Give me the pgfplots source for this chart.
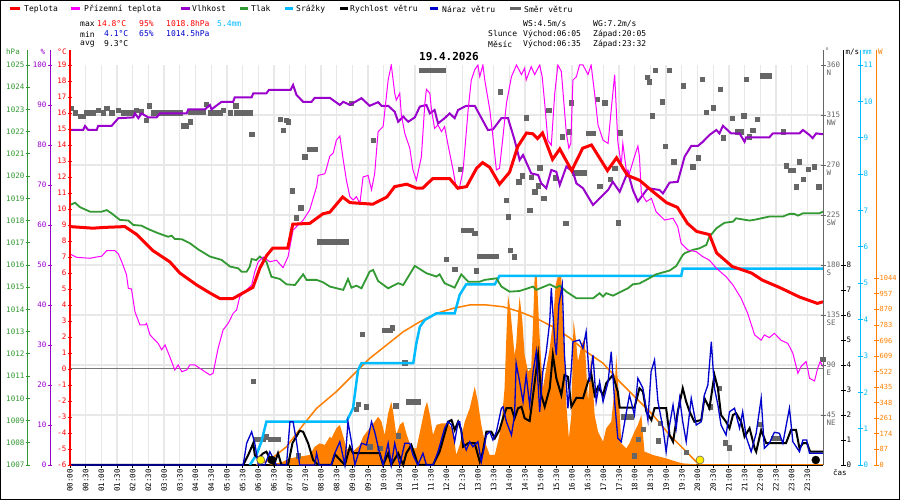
\documentclass[border=0pt]{standalone}
\usepackage{fontspec}
\setmainfont{DejaVu Sans Mono}
\usepackage{pgfplots}
\pgfplotsset{compat=1.18}
\definecolor{cT}{RGB}{255,0,0}
\definecolor{cG}{RGB}{255,0,255}
\definecolor{cH}{RGB}{153,0,204}
\definecolor{cP}{RGB}{51,153,51}
\definecolor{cR}{RGB}{0,187,255}
\definecolor{cB}{RGB}{0,0,204}
\definecolor{cD}{RGB}{102,102,102}
\definecolor{cS}{RGB}{255,128,0}
\definecolor{cGrid}{RGB}{232,232,232}
\definecolor{cZero}{RGB}{120,120,120}
\definecolor{cSun}{RGB}{255,238,0}
\pgfplotsset{
  dat/.style={scale only axis, width=753pt, height=400pt, at={(70pt,35pt)}, anchor=south west, xmin=0, xmax=24, hide axis},
  sc/.style={scale only axis, width=1pt, height=415pt, hide x axis, xmin=0, xmax=1,
    tick align=center, major tick length=5pt, clip=false,
    yticklabel style={font=\fontsize{7.5}{9}\selectfont, inner sep=1pt},
    /pgf/number format/assume math mode=true, /pgf/number format/1000 sep={}},
}
\begin{document}
\begin{tikzpicture}[x=1pt,y=1pt]
\useasboundingbox (0,0) rectangle (900,500);
\fill[white] (0,0) rectangle (900,500);
% grid axis
\begin{axis}[scale only axis, width=753pt, height=400pt, at={(70pt,35pt)}, anchor=south west,
  xmin=0, xmax=24, ymin=0, ymax=360, clip=false,
  axis line style={draw=none},
  xtick={0,0.5,...,23.5},
  xticklabels={00:00,00:30,01:00,01:30,02:00,02:30,03:00,03:30,04:00,04:30,05:00,05:30,06:00,06:30,07:00,07:30,08:00,08:30,09:00,09:30,10:00,10:30,11:00,11:30,12:00,12:30,13:00,13:30,14:00,14:30,15:00,15:30,16:00,16:30,17:00,17:30,18:00,18:30,19:00,19:30,20:00,20:30,21:00,21:30,22:00,22:30,23:00,23:30},
  xtick pos=left, tick align=outside, major tick length=3pt,
  xtick style={black, line width=0.8pt},
  ytick={45,90,...,315}, yticklabels={}, ytick style={draw=none},
  grid=major, grid style={cGrid, line width=1.3pt},
  xticklabel style={rotate=90, anchor=east, font=\fontsize{7.5}{8}\selectfont, inner sep=1pt},
]
\addplot[cZero, line width=1pt] coordinates {(0,86.4) (24,86.4)};
\addplot[black, line width=1.5pt] coordinates {(0,0) (24,0)};
\end{axis}
% solar radiation W
\begin{axis}[dat, ymin=0, ymax=2236.8]
\addplot[fill=cS, draw=none] coordinates {(6.3,0) (6.58,9) (6.79,19) (7.0,37) (7.32,47) (7.64,56) (7.8,102) (7.96,121) (8.12,112) (8.28,158) (8.33,149) (8.49,205) (8.6,224) (8.71,160) (8.81,93) (9.02,75) (9.24,112) (9.34,158) (9.55,205) (9.71,242) (9.82,270) (9.93,242) (10.03,168) (10.14,289) (10.24,354) (10.3,298) (10.4,168) (10.51,224) (10.62,242) (10.72,177) (10.88,93) (11.04,93) (11.2,224) (11.31,317) (11.38,354) (11.47,280) (11.57,168) (11.68,224) (11.84,233) (12.05,233) (12.21,196) (12.31,56) (12.42,112) (12.58,242) (12.74,317) (12.9,438) (13.0,354) (13.11,224) (13.22,130) (13.38,56) (13.54,56) (13.64,130) (13.75,224) (13.85,429) (13.91,727) (13.96,951) (14.03,876) (14.1,746) (14.17,615) (14.22,671) (14.28,839) (14.33,942) (14.42,802) (14.49,615) (14.6,522) (14.7,541) (14.76,802) (14.81,1053) (14.88,1053) (14.97,709) (15.07,429) (15.29,652) (15.39,802) (15.48,1007) (15.55,1053) (15.66,1053) (15.71,802) (15.82,336) (15.9,149) (15.98,280) (16.05,811) (16.12,709) (16.19,578) (16.3,671) (16.4,709) (16.51,354) (16.61,615) (16.72,280) (16.83,186) (16.99,130) (17.09,205) (17.25,242) (17.36,429) (17.41,615) (17.5,354) (17.57,121) (17.73,93) (17.83,121) (17.99,186) (18.1,224) (18.21,280) (18.31,75) (18.58,56) (19.0,37) (19.32,19) (19.53,9) (19.96,4) (20.06,0)} \closedcycle;
\addplot[cS, line width=1.5pt] coordinates {(5.94,0) (6.37,28) (6.9,102) (7.43,224) (7.86,317) (8.49,410) (9.02,503) (9.55,596) (10.09,671) (10.62,745) (11.15,801) (11.68,848) (12.21,876) (12.74,895) (13.27,895) (13.8,885) (14.33,857) (14.86,820) (15.39,773) (15.92,712) (16.45,634) (16.99,569) (17.52,466) (18.05,373) (18.58,280) (19.11,168) (19.64,75) (20.01,9) (20.12,0) (24,0)};
\end{axis}
% wind direction
\begin{axis}[dat, ymin=0, ymax=360]
\addplot[only marks, mark=square*, mark size=2.1pt, cD] coordinates {
(0.05,321) (0.16,317) (0.32,314) (0.42,314) (0.53,317) (0.64,317) (0.74,317) (0.9,319.5) (1.06,317) (1.17,321) (1.33,317) (1.54,319) (1.7,317) (1.86,317) (2.02,317) (2.12,319) (2.28,318) (2.44,310) (2.52,323.4) (2.65,317) (2.8,317) (2.97,317) (3.08,317) (3.18,317) (3.35,317) (3.5,317) (3.61,305.4) (3.69,305.4) (3.84,309) (3.82,318) (3.98,318) (4.14,318) (4.25,318) (4.35,325) (4.46,317) (4.62,317) (4.78,317) (4.88,319) (5.1,317) (5.28,323.4) (5.31,317) (5.47,317) (5.63,317) (5.73,317) (5.79,298) (6.69,311.4) (6.79,301.5) (6.88,310.5) (6.95,309) (7.09,246.9) (7.2,222.6) (7.35,231.6) (7.48,277.5) (7.64,284.4) (7.8,284.4)
(7.95,201) (8.1,201) (8.25,201) (8.4,201) (8.55,201) (8.7,201) (8.8,201) (8.97,325.5)
(9.66,292.5) (11.2,355) (11.35,355) (11.5,355) (11.65,355) (11.8,355) (11.9,355) (12.0,185.4) (12.26,176.4) (12.53,211) (12.64,211) (12.79,211) (12.9,208.5) (12.95,174.9) (13.06,188) (13.2,188) (13.35,188) (13.5,188) (13.59,188) (13.7,336) (13.9,238.5) (13.96,223.5) (14.03,193.5) (14.17,187.5) (14.3,255) (14.42,260.4) (14.54,312.6) (12.44,266.4) (14.65,229.5) (14.71,258.9) (14.81,246) (14.92,251.4) (14.97,267.6) (15.1,240) (15.26,319.5) (15.46,258.6) (15.69,295.5) (15.8,217.5) (15.9,300) (15.98,326) (16.08,263)
(16.19,263) (16.3,263) (16.4,263) (16.51,298.5) (16.66,298.5) (16.8,329.4) (16.88,251) (17.04,326) (17.22,257) (17.36,267) (17.46,218) (17.54,299) (18.4,349) (18.47,345) (18.56,314.4) (18.66,355) (18.87,327) (18.98,287) (19.11,355) (19.24,273) (19.55,341.4) (19.85,268.5) (20.02,276.6) (20.15,347.4) (20.28,317.4) (20.51,321.6) (20.73,338) (20.83,294.6) (21.1,312) (21.28,300) (21.39,300) (21.47,314.4) (21.55,347) (21.66,295.5) (21.76,301.5) (21.9,311) (22.08,350.4) (22.2,350.4) (22.29,350.4) (22.72,300) (22.82,269.4) (22.95,265) (23.05,265) (23.14,250.5) (23.23,273) (23.38,257.4) (23.53,266.4) (23.71,268.5) (23.86,250.5)
(5.84,75.6) (5.95,23.4) (6.05,23.4) (6.15,23.4) (6.26,25.5) (6.37,23.4) (6.5,23.4) (6.63,23.4) (7.27,8.4) (9.32,117.9) (10.03,121.5) (10.19,121.5) (10.28,123.6) (10.67,92.1) (10.38,53.4) (9.18,54.9) (9.11,50.4) (9.45,52.5) (10.77,57) (10.92,57) (11.1,57) (10.46,26.4) (9.55,16.5) (9.87,15) (17.64,43.5) (17.8,43.5) (17.89,43.5) (18.26,32.1) (18.1,23.1) (17.99,8.4) (18.74,21.9) (18.81,37.5) (19.64,11.4) (20.4,52.5) (20.68,69) (20.89,20.1) (21.0,15.6) (22.0,36.9) (22.4,24) (22.56,24) (23.99,95.1)};
\end{axis}
% precipitation mm
\begin{axis}[dat, ymin=0, ymax=11]
\addplot[cR, line width=2.5pt] coordinates {(5.73,0) (5.94,0.275) (6.1,0.64) (6.26,1.19) (8.81,1.19) (9.02,1.56) (9.18,2.61) (9.29,2.8) (10.94,2.8) (11.04,3.35) (11.15,3.8) (11.31,3.99) (11.68,4.17) (12.26,4.17) (12.42,4.68) (12.63,4.97) (13.54,4.97) (13.69,5.2) (19.48,5.2) (19.53,5.4) (24,5.4)};
\end{axis}
% pressure hPa
\begin{axis}[dat, ymin=1007, ymax=1025]
\addplot[cP, line width=1.8pt] coordinates {(0,1018.7) (0.16,1018.8) (0.32,1018.6) (0.64,1018.4) (1.01,1018.4) (1.17,1018.47) (1.33,1018.32) (1.59,1018.03) (1.86,1018.0) (2.02,1017.8) (2.28,1017.77) (2.49,1017.62) (2.81,1017.43) (3.13,1017.27) (3.24,1017.32) (3.34,1017.17) (3.56,1017.16) (3.82,1016.98) (4.09,1016.7) (4.46,1016.38) (4.83,1016.23) (5.1,1015.93) (5.36,1015.85) (5.47,1015.7) (5.63,1015.7) (5.73,1015.93) (5.79,1016.27) (5.94,1016.22) (6.05,1016.38) (6.26,1016.15) (6.42,1015.47) (6.69,1015.37) (6.9,1015.13) (7.17,1015.1) (7.43,1015.58) (7.54,1015.33) (7.86,1015.33) (8.07,1015.22) (8.28,1015.03) (8.71,1014.88) (8.86,1015.37) (8.97,1014.98) (9.13,1015.07) (9.29,1014.95) (9.55,1015.7) (9.66,1015.78) (9.82,1015.28) (10.14,1014.95) (10.46,1015.18) (10.62,1015.1) (10.99,1015.96) (11.36,1015.63) (11.68,1015.48) (11.78,1015.58) (11.94,1015.18) (12.26,1014.98) (12.47,1015.58) (12.69,1015.25) (13.06,1015.25) (13.22,1015.33) (13.59,1015.4) (13.75,1015.03) (14.01,1014.8) (14.33,1014.83) (14.76,1015.03) (14.86,1014.88) (15.29,1015.13) (15.5,1014.98) (15.61,1015.07) (15.82,1014.8) (16.14,1014.5) (16.67,1014.5) (16.88,1014.73) (16.99,1014.58) (17.09,1014.73) (17.31,1014.62) (17.52,1014.77) (17.78,1014.95) (17.94,1015.13) (18.15,1015.17) (18.42,1015.37) (18.68,1015.58) (19.11,1015.75) (19.32,1015.95) (19.53,1016.45) (19.59,1016.53) (19.85,1016.68) (20.06,1016.75) (20.28,1016.9) (20.38,1017.27) (20.6,1017.65) (20.86,1017.9) (21.13,1017.95) (21.23,1018.1) (21.44,1018.05) (21.66,1018.0) (21.87,1018.05) (22.29,1018.18) (22.72,1018.18) (22.93,1018.3) (23.09,1018.3) (23.2,1018.22) (23.36,1018.33) (23.89,1018.33) (24,1018.4)};
\end{axis}
% humidity %
\begin{axis}[dat, ymin=0, ymax=100]
\addplot[cH, line width=2pt] coordinates {(0,83.75) (0.42,83.75) (0.48,84.75) (0.58,83.75) (0.85,83.75) (0.9,84.8) (1.33,84.8) (1.54,86.7) (2.02,86.9) (2.07,87.9) (2.18,86.7) (2.28,87.9) (2.49,86.9) (2.76,86.9) (2.87,87.9) (3.72,87.9) (3.77,88.9) (4.3,88.9) (4.46,90) (4.51,88.9) (4.83,90.8) (5.2,90.8) (5.25,91.9) (5.79,91.9) (5.84,92.9) (6.26,92.9) (6.34,93.75) (7.03,93.75) (7.11,95) (7.22,92.5) (7.43,90.8) (7.7,90.8) (7.8,91.8) (8.28,91.8) (8.6,90) (8.71,90.8) (8.92,90) (9.29,91.7) (9.55,89.8) (9.82,90.7) (9.93,89.8) (10.14,89.8) (10.35,88.3) (10.46,85.8) (10.62,87.1) (10.78,85.8) (10.99,86.9) (11.15,89.6) (11.36,90) (11.47,87.9) (11.62,88.75) (11.73,85.4) (11.94,86.7) (12.1,87.9) (12.26,86.7) (12.37,88.75) (12.63,89.8) (12.9,89.8) (13.06,87.5) (13.32,83.75) (13.48,83.9) (13.75,86.7) (13.96,86.7) (14.17,81.25) (14.33,76.25) (14.44,77.5) (14.7,72.9) (14.92,72.5) (15.02,70.4) (15.18,69.2) (15.34,73.75) (15.5,73.3) (15.61,70) (15.82,74.6) (16.03,73.3) (16.14,70.4) (16.35,69.2) (16.67,65) (16.99,67.5) (17.15,68.75) (17.3,70.8) (17.52,68.3) (17.78,73.3) (17.94,68.75) (18.1,65.9) (18.42,69.2) (18.79,68.75) (18.9,67.9) (19.11,70.6) (19.37,70.8) (19.59,77.1) (19.8,79.75) (20.01,79.75) (20.17,80.8) (20.38,82.5) (20.6,83.75) (20.7,82.9) (20.81,84.8) (21.07,82.9) (21.34,82.9) (21.5,80.8) (21.55,81.9) (22.29,81.9) (22.4,82.9) (23.25,82.9) (23.36,83.75) (23.57,82.5) (23.67,81.7) (23.78,82.9) (24,82.7)};
\end{axis}
% temperatures C
\begin{axis}[dat, ymin=-6, ymax=19]
\addplot[cG, line width=1pt] coordinates {(0,7.19) (0.21,6.98) (0.42,6.95) (0.64,6.92) (0.85,7.0) (1.01,7.05) (1.17,7.4) (1.43,7.4) (1.54,7.2) (1.65,6.7) (1.8,5.9) (1.86,5.04) (1.96,5.0) (2.07,3.58) (2.23,2.75) (2.39,2.75) (2.44,2.85) (2.55,2.13) (2.81,1.6) (2.92,1.2) (3.03,1.5) (3.18,0.77) (3.34,-0.06) (3.45,0.25) (3.56,-0.17) (3.72,-0.06) (3.82,0.25) (3.98,0.25) (4.14,0.04) (4.3,-0.17) (4.46,-0.375) (4.56,-0.27) (4.72,1.29) (4.88,2.44) (5.04,2.85) (5.2,3.48) (5.31,3.69) (5.41,4.52) (5.63,4.94) (5.79,5.25) (5.89,6.08) (6.0,6.7) (6.16,7.0) (6.37,6.7) (6.58,6.8) (6.79,6.33) (6.95,7.02) (7.11,8.69) (7.43,9.3) (7.64,9.94) (7.86,11.4) (7.91,12.1) (8.12,12.2) (8.17,12.5) (8.28,13.3) (8.39,13.5) (8.49,14.3) (8.6,14.56) (8.71,13.06) (8.81,11.8) (8.92,10.77) (9.02,10.56) (9.13,10.77) (9.24,10.35) (9.34,12.0) (9.5,12.1) (9.61,11.2) (9.71,12.2) (9.82,14.83) (9.98,15.15) (10.14,18.06) (10.24,19.0) (10.35,17.23) (10.4,16.8) (10.51,17.23) (10.56,15.9) (10.67,14.73) (10.83,13.8) (10.93,12.44) (11.04,11.8) (11.2,13.27) (11.31,16.6) (11.36,17.48) (11.47,17.23) (11.52,16.2) (11.62,15.04) (11.73,15.25) (11.84,14.83) (11.94,15.15) (12.05,14.0) (12.21,12.44) (12.31,11.3) (12.42,11.4) (12.53,12.44) (12.69,16.2) (12.79,18.06) (12.9,18.7) (13.0,19.0) (13.06,18.27) (13.16,19.0) (13.22,18.06) (13.38,16.2) (13.48,14.52) (13.59,12.44) (13.69,12.55) (13.8,14.52) (13.91,16.6) (14.07,18.27) (14.23,19.0) (14.39,18.4) (14.49,18.8) (14.54,18.06) (14.7,18.9) (14.81,18.4) (14.97,19.0) (15.05,18.27) (15.13,16.6) (15.23,14.3) (15.34,13.99) (15.45,17.23) (15.55,19.0) (15.66,18.6) (15.82,14.73) (15.9,13.8) (15.96,14.1) (16.03,18.06) (16.14,18.27) (16.24,19.0) (16.35,19.0) (16.51,18.4) (16.61,19.0) (16.72,17.23) (16.83,15.25) (16.99,14.3) (17.15,14.1) (17.25,16.2) (17.36,18.4) (17.46,14.2) (17.57,12.75) (17.62,14.1) (17.73,12.44) (17.83,12.23) (17.99,13.27) (18.1,13.94) (18.15,13.27) (18.21,10.98) (18.37,10.46) (18.53,10.67) (18.68,9.83) (18.95,9.31) (19.22,9.42) (19.37,8.9) (19.48,7.85) (19.69,7.44) (19.96,7.33) (20.17,7.02) (20.38,6.8) (20.6,6.3) (20.91,5.77) (21.13,5.25) (21.39,4.42) (21.6,3.48) (21.82,2.13) (22.03,1.8) (22.13,2.13) (22.29,1.96) (22.45,2.23) (22.66,1.8) (22.88,1.6) (23.04,0.98) (23.2,-0.27) (23.3,0.15) (23.46,0.46) (23.51,0.04) (23.57,-0.58) (23.73,-0.75) (23.83,0.04) (23.91,0.46) (24,0.15)};
\addplot[cT, line width=3pt] coordinates {(0,8.9) (0.73,8.8) (1.1,8.85) (1.75,8.9) (2.13,8.4) (2.64,7.4) (3.18,6.7) (3.5,6.0) (4.04,5.25) (4.46,4.75) (4.78,4.4) (5.19,4.4) (5.51,4.75) (5.83,5.1) (6.05,6.3) (6.27,7.1) (6.46,7.55) (6.94,7.55) (7.1,9.05) (7.64,9.1) (8.06,9.7) (8.28,9.8) (8.69,10.75) (8.92,10.4) (9.65,10.3) (10.1,10.75) (10.35,11.4) (10.73,11.55) (11.05,11.3) (11.24,11.3) (11.56,11.9) (12.1,11.9) (12.36,11.3) (12.64,11.4) (12.96,12.55) (13.15,12.9) (13.38,12.6) (13.69,11.55) (14.01,12.3) (14.27,13.9) (14.55,14.75) (14.75,14.7) (14.9,14.4) (15.06,14.75) (15.38,13.1) (15.61,13.75) (15.99,12.4) (16.34,13.8) (16.62,14.0) (17.13,12.4) (17.42,13.2) (17.77,12.1) (18.15,11.8) (18.57,11.1) (19.01,10.4) (19.36,10.1) (19.68,9.1) (19.97,8.6) (20.38,8.4) (20.61,7.25) (21.11,6.4) (21.72,6.0) (22.07,5.55) (22.61,5.1) (23.25,4.5) (23.82,4.1) (24,4.2)};
\end{axis}
% wind m/s
\begin{axis}[dat, ymin=0, ymax=16, clip=false]
\addplot[black, line width=2pt] coordinates {(0,0) (5.52,0) (5.68,0.4) (5.84,0.87) (5.89,0.4) (6.0,0.27) (6.16,0.47) (6.26,0.53) (6.37,0.27) (6.5,0) (6.63,0.47) (6.74,0) (6.95,0) (7.09,0.87) (7.32,1.37) (7.43,1.33) (7.59,0.87) (7.75,0.2) (7.91,0) (8.33,0) (8.44,0.43) (8.76,0) (8.92,0.73) (9.02,0.47) (9.87,0.47) (9.98,0) (10.14,0.47) (10.24,0) (10.46,0.47) (10.62,0) (10.72,0.47) (10.88,0.8) (10.99,0.4) (11.09,0) (11.57,0) (11.78,0.53) (12.05,1.73) (12.16,1.8) (12.26,1.4) (12.37,1.73) (12.47,1.4) (12.53,0.73) (12.69,0.87) (12.9,0.87) (13.06,0.13) (13.16,0.53) (13.27,1.33) (13.43,1.33) (13.54,1.07) (13.69,1.4) (13.8,1.87) (13.91,2.27) (14.07,2.27) (14.17,1.87) (14.28,2.27) (14.39,2.33) (14.49,1.87) (14.65,1.76) (14.76,2.8) (14.92,4.4) (15.02,2.8) (15.13,2.33) (15.29,3.07) (15.39,4.4) (15.5,3.47) (15.66,2.8) (15.76,3.6) (15.87,3.53) (15.98,2.33) (16.14,2.69) (16.35,2.67) (16.51,3.33) (16.61,3.67) (16.72,2.8) (16.83,3.13) (16.99,2.8) (17.09,3.27) (17.3,3.6) (17.46,2.93) (17.52,2.29) (17.99,2.29) (18.15,3.07) (18.26,2.93) (18.37,2.13) (18.53,1.8) (18.63,2.27) (19.0,2.27) (19.11,1.2) (19.22,0.93) (19.37,2.13) (19.53,3.07) (19.64,2.53) (19.75,2.13) (19.9,1.73) (20.12,1.8) (20.22,2.67) (20.38,2.27) (20.54,3.6) (20.65,3.07) (20.75,2.0) (20.91,1.73) (21.02,1.47) (21.13,2.0) (21.23,2.07) (21.39,1.73) (21.5,1.13) (21.66,1.47) (21.82,0.67) (21.87,0.53) (22.03,1.4) (22.19,0.87) (22.82,0.87) (22.98,1.4) (23.14,1.4) (23.25,0.67) (23.36,0.87) (23.49,0.87) (23.59,0.53) (24,0.53)};
\addplot[cB, line width=1.3pt] coordinates {(0,0) (5.52,0) (5.63,0.87) (5.79,1.33) (5.89,0.87) (6.0,0) (6.21,0) (6.37,0.53) (6.58,0) (6.9,0) (7.01,1.73) (7.11,1.73) (7.22,0.93) (7.32,0) (7.8,0) (7.86,0.47) (7.94,0) (8.33,0) (8.44,0.47) (8.6,0.93) (8.76,0) (8.86,1.73) (8.97,0.93) (9.08,0) (9.29,0.87) (9.45,0.8) (9.61,1.73) (9.71,1.33) (9.87,0.47) (9.98,0) (10.14,0.87) (10.24,0) (10.35,0.87) (10.51,0) (10.67,0.87) (10.83,0.87) (10.93,0.4) (11.09,0) (11.25,0.47) (11.36,0) (11.57,0) (11.73,0.53) (11.94,1.47) (12.05,1.73) (12.16,1.6) (12.26,0.93) (12.37,1.73) (12.42,1.73) (12.53,0.93) (12.63,0.6) (12.74,0.93) (12.84,0.73) (13.0,0.93) (13.11,0.13) (13.27,1.2) (13.38,1.33) (13.48,1.0) (13.59,1.33) (13.75,2.27) (13.8,2.33) (13.91,1.73) (14.07,1.2) (14.17,2.0) (14.22,4.07) (14.33,3.33) (14.44,2.53) (14.54,3.6) (14.65,2.4) (14.76,3.73) (14.86,4.53) (14.97,2.13) (15.07,3.73) (15.18,4.53) (15.29,5.73) (15.34,7.07) (15.45,4.93) (15.5,4.4) (15.58,6.4) (15.69,7.2) (15.76,4.4) (15.87,2.27) (15.98,3.87) (16.03,4.93) (16.24,5.0) (16.35,4.67) (16.45,5.33) (16.56,3.33) (16.67,4.4) (16.77,2.53) (16.88,3.33) (16.99,2.53) (17.15,3.33) (17.25,4.53) (17.36,2.53) (17.46,1.07) (17.57,0.93) (17.68,1.73) (17.83,2.8) (17.99,2.0) (18.1,3.47) (18.26,3.07) (18.42,1.8) (18.52,3.73) (18.63,4.2) (18.74,2.53) (18.9,1.47) (19.0,0.53) (19.11,1.6) (19.22,2.4) (19.32,1.47) (19.43,2.67) (19.53,1.73) (19.64,0.93) (19.8,2.67) (19.96,1.6) (20.12,1.73) (20.22,2.8) (20.33,3.2) (20.44,4.93) (20.54,3.07) (20.65,2.4) (20.75,1.6) (20.91,1.2) (21.02,2.13) (21.18,2.27) (21.34,1.47) (21.44,2.13) (21.55,1.13) (21.71,0.53) (21.87,1.27) (22.03,2.67) (22.13,0.67) (22.29,0.87) (22.45,1.31) (22.61,1.27) (22.72,0.87) (22.93,2.27) (23.04,0.93) (23.25,0.53) (23.36,1.0) (23.48,1.0) (23.57,0.47) (24,0.47)};
\addplot[only marks, mark=*, mark size=4pt, mark options={fill=cSun, draw=black!60, line width=0.6pt}] coordinates {(6.08,0.2) (20.08,0.2)};
\addplot[only marks, mark=*, mark size=4pt, black] coordinates {(6.43,0.2) (23.77,0.2)};
\end{axis}
% scale axes left
\begin{axis}[sc, at={(28pt,35pt)}, anchor=south west, axis y line=left, ymin=1007, ymax=1025.675,
  ytick={1007,1008,...,1025}, y axis line style={-, cP, line width=1pt}, ytick style={cP, line width=0.8pt}, yticklabel style={text=cP}]
\end{axis}
\begin{axis}[sc, at={(50pt,35pt)}, anchor=south west, axis y line=left, ymin=0, ymax=103.75,
  ytick={0,10,...,100}, y axis line style={-, cH, line width=1pt}, ytick style={cH, line width=0.8pt}, yticklabel style={text=cH}]
\end{axis}
\begin{axis}[sc, at={(70pt,35pt)}, anchor=south west, axis y line=left, ymin=-6, ymax=19.9375,
  ytick={-6,-5,...,19}, y axis line style={-, cT, line width=1.5pt}, ytick style={cT, line width=0.8pt}, yticklabel style={text=cT}]
\end{axis}
% scale axes right
\begin{axis}[sc, at={(823pt,35pt)}, anchor=south east, axis y line=right, ymin=0, ymax=373.5,
  ytick={45,90,...,360}, yticklabels={{45\\NE},{90\\E},{135\\SE},{180\\S},{225\\SW},{270\\W},{315\\NW},{360\\N}},
  y axis line style={-, cD, line width=1pt}, ytick style={cD, line width=0.8pt},
  yticklabel style={text=cD, align=left, anchor=north west, yshift=4.5pt, font=\fontsize{7.5}{8.5}\selectfont}]
\end{axis}
\begin{axis}[sc, at={(843pt,35pt)}, anchor=south east, axis y line=right, ymin=0, ymax=16.6,
  ytick={0,1,...,8}, y axis line style={-, black, line width=1pt}, ytick style={black, line width=0.8pt}, yticklabel style={text=black}]
\end{axis}
\begin{axis}[sc, at={(860pt,35pt)}, anchor=south east, axis y line=right, ymin=0, ymax=11.4125,
  ytick={0,1,...,11}, y axis line style={-, cR, line width=1pt}, ytick style={cR, line width=0.8pt}, yticklabel style={text=cR}]
\end{axis}
\begin{axis}[sc, at={(876pt,35pt)}, anchor=south east, axis y line=right, ymin=0, ymax=2320.7,
  ytick={0,87,174,261,348,435,522,609,696,783,870,957,1044}, y axis line style={-, cS, line width=1pt}, ytick style={cS, line width=0.8pt}, yticklabel style={text=cS, font=\fontsize{7}{8}\selectfont}]
\end{axis}
% texts
\begin{scope}[every node/.style={font=\fontsize{8}{9}\selectfont, inner sep=0pt}]
\draw[cT, line width=3pt] (10,491) -- (20,491); \node[anchor=west] at (24,491) {Teplota};
\draw[cG, line width=3pt] (71,491) -- (80,491); \node[anchor=west] at (84,491) {Přízemní teplota};
\draw[cH, line width=3pt] (181,491) -- (190,491); \node[anchor=west] at (192,491) {Vlhkost};
\draw[cP, line width=3pt] (240,491) -- (248,491); \node[anchor=west] at (251,491) {Tlak};
\draw[cR, line width=3pt] (285,491) -- (293,491); \node[anchor=west] at (296,491) {Srážky};
\draw[black, line width=3pt] (340,491) -- (348,491); \node[anchor=west] at (350,491) {Rychlost větru};
\draw[cB, line width=3pt] (430,491) -- (438,491); \node[anchor=west] at (442,491) {Náraz větru};
\draw[cD, line width=3pt] (510,491) -- (521,491); \node[anchor=west] at (524,491) {Směr větru};
\node[anchor=west] at (80,476) {max};
\node[anchor=west, text=cT] at (97,476) {14.8°C};
\node[anchor=west, text=cT] at (139,476) {95\%};
\node[anchor=west, text=cT] at (166,476) {1018.8hPa};
\node[anchor=west, text=cR] at (217,476) {5.4mm};
\node[anchor=west] at (80,466) {min};
\node[anchor=west, text=cB] at (104,466) {4.1°C};
\node[anchor=west, text=cB] at (139,466) {65\%};
\node[anchor=west, text=cB] at (166,466) {1014.5hPa};
\node[anchor=west] at (80,456) {avg};
\node[anchor=west] at (104,456) {9.3°C};
\node[anchor=west] at (523,476) {WS:4.5m/s};
\node[anchor=west] at (593,476) {WG:7.2m/s};
\node[anchor=west] at (488,466) {Slunce};
\node[anchor=west] at (523,466) {Východ:06:05};
\node[anchor=west] at (593,466) {Západ:20:05};
\node[anchor=west] at (488,456) {Měsíc};
\node[anchor=west] at (523,456) {Východ:06:35};
\node[anchor=west] at (593,456) {Západ:23:32};
\node[font=\bfseries\fontsize{11}{12}\selectfont] at (449,443) {19.4.2026};
\node[text=cP, font=\fontsize{7.5}{8}\selectfont] at (13,448) {hPa};
\node[text=cH, font=\fontsize{7.5}{8}\selectfont] at (43,448) {\%};
\node[text=cT, font=\fontsize{7.5}{8}\selectfont] at (62,448) {°C};
\node[text=cD, font=\fontsize{7.5}{8}\selectfont] at (827,449) {°};
\node[anchor=west, font=\fontsize{7.5}{8}\selectfont] at (845.5,448) {m/s};
\node[anchor=west, text=cR, font=\fontsize{7.5}{8}\selectfont] at (862.5,448) {mm};
\node[anchor=west, text=cS, font=\fontsize{7.5}{8}\selectfont] at (878,448) {W};
\node[anchor=west, font=\fontsize{7.5}{8}\selectfont] at (833,27) {čas};
\end{scope}
\draw[black, line width=1pt] (0.5,0.5) rectangle (899.5,499.5);
\end{tikzpicture}
\end{document}
